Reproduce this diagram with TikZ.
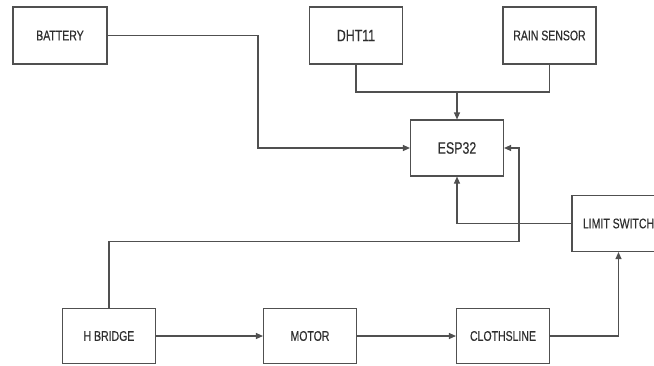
\documentclass[tikz,border=0pt]{standalone}
\usepackage{fontspec}
\usepackage{tikz}
\usetikzlibrary{arrows.meta, positioning, calc}
\newfontfamily\blockfont[FakeStretch=0.75, FakeBold=0.3]{Liberation Sans}
\definecolor{mLineGray}{HTML}{505050}
\definecolor{mTextGray}{HTML}{2E2E2E}
\tikzset{
  block/.style={draw=mLineGray, line width=1.1pt, fill=white, minimum width=93pt,
                minimum height=56pt, font=\blockfont\fontsize{14}{16}\selectfont,
                text=mTextGray, inner sep=0pt},
  bigtext/.style={font=\blockfont\fontsize{16.5}{18}\selectfont},
  wire/.style={draw=mLineGray, line width=1.1pt},
  arr/.style={wire, -{Triangle[length=7pt, width=6pt]}}
}

\begin{document}
\begin{tikzpicture}[x=1pt, y=-1pt]
  \useasboundingbox (0,0) rectangle (654,365);
  \begin{scope}
  \clip (0,0) rectangle (654,365);
  % blocks
  \node[block, minimum width=94pt, minimum height=57pt] (battery) at (60,35.5) {BATTERY};
  \node[block, bigtext, minimum height=57pt] (dht) at (356,35.5) {DHT11};
  \node[block, minimum height=57pt] (rain) at (549.5,35.5) {RAIN SENSOR};
  \node[block, bigtext] (esp) at (457,148) {ESP32};
  \node[block] (limit) at (618.5,223.5) {LIMIT SWITCH};
  \node[block, minimum height=55pt] (hbridge) at (109,336) {H BRIDGE};
  \node[block, minimum height=55pt] (motor) at (310,336) {MOTOR};
  \node[block, minimum height=55pt] (cloth) at (503,336) {CLOTHSLINE};
  % turning points
  \coordinate (bat turn) at (258,35.5);
  \coordinate (sens join) at (457,92);
  \coordinate (esp loop) at (519,241.5);
  % connectors
  \draw[arr] (battery.east) -- (bat turn) |- (esp.west);
  \draw[wire] (dht.south) |- (sens join) -| (rain.south);
  \draw[arr] (sens join) -- (esp.north);
  \draw[arr] (hbridge.north) |- (esp loop) |- (esp.east);
  \draw[arr] (limit.west) -| (esp.south);
  \draw[arr] (hbridge) -- (motor);
  \draw[arr] (motor) -- (cloth);
  \draw[arr] (cloth.east) -| (limit.south);
  \end{scope}
\end{tikzpicture}
\end{document}
